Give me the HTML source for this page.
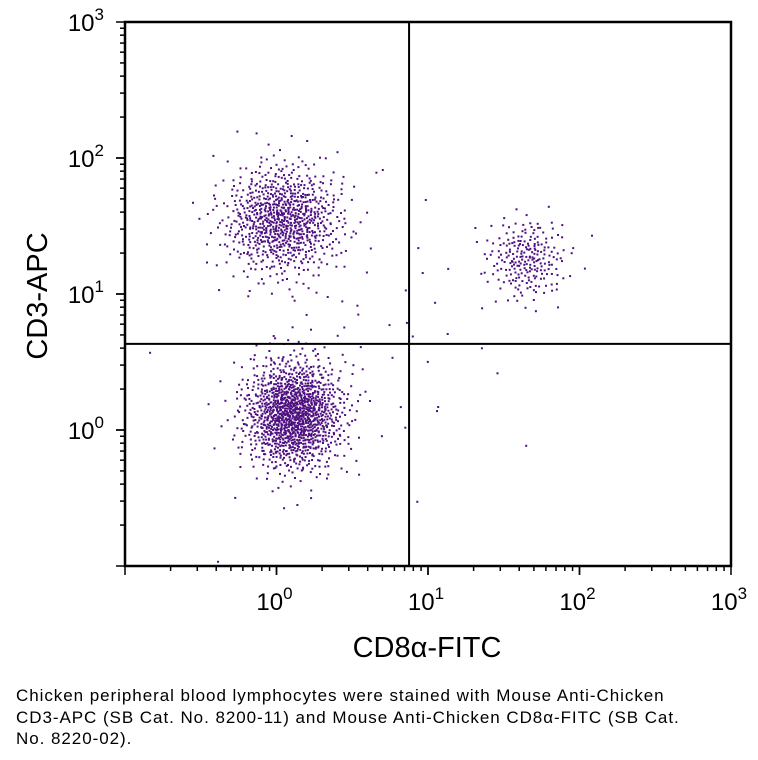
<!DOCTYPE html>
<html><head><meta charset="utf-8"><style>
body{margin:0;background:#fff;width:758px;height:760px;overflow:hidden;font-family:"Liberation Sans",sans-serif}
#cap{position:absolute;left:16px;top:685px;font-size:17px;line-height:21.5px;letter-spacing:0.95px;color:#000;width:668px}
</style></head><body>
<svg id="chart" width="758" height="680" style="position:absolute;left:0;top:0" xmlns="http://www.w3.org/2000/svg"></svg>
<div id="cap">Chicken peripheral blood lymphocytes were stained with Mouse Anti-Chicken CD3-APC (SB Cat. No. 8200-11) and Mouse Anti-Chicken CD8α-FITC (SB Cat. No. 8220-02).</div>
<script>
// data
const clusterNames=["cd3-cd8-neg","cd3-pos-cd8-neg","cd3-pos-cd8-pos","scatter"];
const clusterCenterX=[1.3,1.1,45,3];
const clusterCenterY=[1.3,35,18,5];
const clusterSdX=[0.16,0.19,0.13,0.55];
const clusterSdY=[0.2,0.2,0.15,0.6];
const clusterCount=[1300,850,230,60];
const gateX=7.5, gateY=4.3;
const xTicks=[0,1,2,3];
const yTicks=[0,1,2,3];

const svg=document.getElementById('chart');
const NS='http://www.w3.org/2000/svg';
const L=125,R=731,T=22,B=566;
const xs=v=>L+(Math.log10(v)+1)/4*(R-L);
const ys=v=>B-(Math.log10(v)+1)/4*(B-T);
function el(t,a){const e=document.createElementNS(NS,t);for(const k in a)e.setAttribute(k,a[k]);svg.appendChild(e);return e;}
function halton(i,b){let f=1,r=0;while(i>0){f/=b;r+=f*(i%b);i=Math.floor(i/b);}return r;}
let idx=1;
clusterNames.forEach((nm,c)=>{
  for(let i=0;i<clusterCount[c];i++,idx++){
    const u1=Math.max(halton(idx,2),1e-4),u2=halton(idx,3);
    const r=Math.sqrt(-2*Math.log(u1));
    const gx=r*Math.cos(2*Math.PI*u2),gy=r*Math.sin(2*Math.PI*u2);
    const vx=Math.pow(10,Math.log10(clusterCenterX[c])+gx*clusterSdX[c]);
    const vy=Math.pow(10,Math.log10(clusterCenterY[c])+gy*clusterSdY[c]);
    const px=xs(vx),py=ys(vy);
    if(px<L+2||px>R-2||py<T+2||py>B-2)continue;
    const d=el('rect',{x:(px-1).toFixed(1),y:(py-1).toFixed(1),width:2,height:2,fill:'#4e0f80'});
    
    
  }
});
const f=el('rect',{x:L,y:T,width:R-L,height:B-T,fill:'none',stroke:'#000','stroke-width':2.5});

const gv=el('line',{x1:xs(gateX),x2:xs(gateX),y1:T,y2:B,stroke:'#000','stroke-width':2});

const gh=el('line',{x1:L,x2:R,y1:ys(gateY),y2:ys(gateY),stroke:'#000','stroke-width':2});

for(let d=-1;d<3;d++)for(let m=1;m<=10;m++){
  const v=m*Math.pow(10,d);const major=m===1||m===10;const len=major?9:5;
  const x=xs(v),y=ys(v);
  const tx=el('line',{x1:x,x2:x,y1:B,y2:B+len,stroke:'#000','stroke-width':1.5});
  
  const ty=el('line',{x1:L-len,x2:L,y1:y,y2:y,stroke:'#000','stroke-width':1.5});
  
}
xTicks.forEach(e=>{
  const t=el('text',{x:xs(Math.pow(10,e))-2,y:610,'font-size':24,'text-anchor':'middle','font-family':'Liberation Sans'});
  t.innerHTML='10<tspan dy="-11" font-size="17">'+e+'</tspan>';
  
});
yTicks.forEach(e=>{
  const t=el('text',{x:104,y:ys(Math.pow(10,e))+9,'font-size':24,'text-anchor':'end','font-family':'Liberation Sans'});
  t.innerHTML='10<tspan dy="-11" font-size="17">'+e+'</tspan>';
  
});
const xt=el('text',{x:427,y:657,'font-size':29,'text-anchor':'middle','font-family':'Liberation Sans'});
xt.textContent='CD8α-FITC';
const yt=el('text',{x:0,y:0,'font-size':29,'text-anchor':'middle','font-family':'Liberation Sans',transform:'translate(47,296) rotate(-90)'});
yt.textContent='CD3-APC';
</script>
</body></html>
